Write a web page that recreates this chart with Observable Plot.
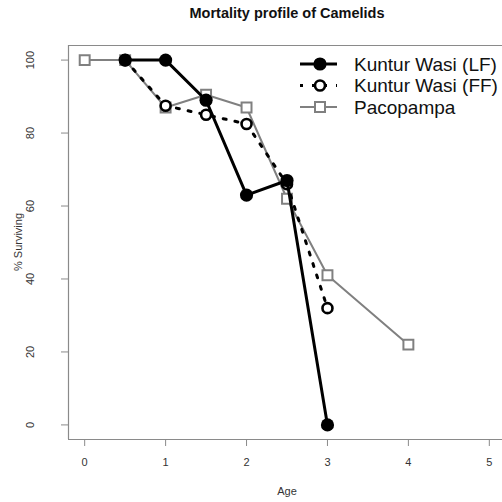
<!DOCTYPE html>
<html><head><meta charset="utf-8">
<script src="https://cdn.jsdelivr.net/npm/d3@7"></script>
<script src="https://cdn.jsdelivr.net/npm/@observablehq/plot@0.6"></script>
<style>body{margin:0;background:#fff} #chart{width:502px;height:502px}</style>
</head><body><div id="chart"></div>
<script>
const title = "Mortality profile of Camelids";
const xLabel = "Age";
const yLabel = "% Surviving";
const xTicks = [0, 1, 2, 3, 4, 5];
const yTicks = [0, 20, 40, 60, 80, 100];
const xDomain = [-0.2, 5.2];
const yDomain = [-4, 104];
const seriesNames = ["Kuntur Wasi (LF)", "Kuntur Wasi (FF)", "Pacopampa"];
const ageLF = [0.5, 1, 1.5, 2, 2.5, 3];
const survLF = [100, 100, 89, 63, 67, 0];
const ageFF = [0.5, 1, 1.5, 2, 2.5, 3];
const survFF = [100, 87.5, 85, 82.5, 66, 32];
const agePaco = [0, 0.5, 1, 1.5, 2, 2.5, 3, 4];
const survPaco = [100, 100, 87, 90.5, 87, 62, 41, 22];

const toRows = (ages, vals, name) => ages.map((a, i) => ({series: name, age: a, surv: vals[i]}));
const lf = toRows(ageLF, survLF, seriesNames[0]);
const ff = toRows(ageFF, survFF, seriesNames[1]);
const paco = toRows(agePaco, survPaco, seriesNames[2]);

const GRAY = "#808080";
const AX = "#8a8a8a";
const TXT = "#333";
const font = "'Liberation Sans', Arial, Helvetica, sans-serif";

const chart = Plot.plot({
  width: 502,
  height: 502,
  marginTop: 45,
  marginBottom: 63,
  marginLeft: 68,
  marginRight: 0,
  style: {fontFamily: font, background: "#fff"},
  x: {domain: xDomain, range: [68, 505]},
  y: {domain: yDomain},
  marks: [
    Plot.ruleY(yDomain, {x1: xDomain[0], x2: xDomain[1], stroke: AX, strokeWidth: 1.2}),
    Plot.ruleX([xDomain[0]], {y1: yDomain[0], y2: yDomain[1], stroke: AX, strokeWidth: 1.2}),
    Plot.axisX(xTicks, {tickSize: 7, tickPadding: 12, stroke: AX, color: TXT, fontSize: 11, label: null}),
    Plot.axisY(yTicks, {tickSize: 7, tickPadding: 28, tickRotate: -90, stroke: AX, color: TXT, fontSize: 11, label: null}),
    Plot.line(paco, {x: "age", y: "surv", stroke: GRAY, strokeWidth: 2}),
    Plot.dot(paco, {x: "age", y: "surv", symbol: "square", r: 5.6, stroke: GRAY, strokeWidth: 2, fill: "white"}),
    Plot.line(ff, {x: "age", y: "surv", stroke: "black", strokeWidth: 3, strokeDasharray: "3,9"}),
    Plot.dot(ff, {x: "age", y: "surv", r: 5, stroke: "black", strokeWidth: 2.6, fill: "white"}),
    Plot.line(lf, {x: "age", y: "surv", stroke: "black", strokeWidth: 3}),
    Plot.dot(lf, {x: "age", y: "surv", r: 6.6, fill: "black", stroke: "none"})
  ]
});
document.getElementById("chart").appendChild(chart);

const svg = d3.select(chart);
svg.append("text")
  .attr("x", 287).attr("y", 18)
  .attr("text-anchor", "middle")
  .attr("font-family", font).attr("font-weight", "bold").attr("font-size", 14.5)
  .attr("fill", "#111").text(title);

svg.append("text")
  .attr("x", 287).attr("y", 495)
  .attr("text-anchor", "middle")
  .attr("font-family", font).attr("font-size", 11)
  .attr("fill", TXT).text(xLabel);

svg.append("text")
  .attr("transform", "translate(22,242) rotate(-90)")
  .attr("text-anchor", "middle")
  .attr("font-family", font).attr("font-size", 11)
  .attr("fill", TXT).text(yLabel);

const leg = svg.append("g").attr("font-family", font);
const legendStyles = [
  {stroke: "black", width: 3, dash: null, sym: "circle", fill: "black", symStroke: "none", r: 6.6},
  {stroke: "black", width: 3, dash: "3,9", sym: "circle", fill: "none", symStroke: "black", r: 5},
  {stroke: GRAY, width: 2, dash: null, sym: "square", fill: "white", symStroke: GRAY, r: 5}
];
seriesNames.forEach((name, i) => {
  const st = legendStyles[i];
  const cy = 64 + i * 21.5;
  const g = leg.append("g");
  g.append("line").attr("x1", 300).attr("x2", 337).attr("y1", cy).attr("y2", cy)
    .attr("stroke", st.stroke).attr("stroke-width", st.width)
    .attr("stroke-dasharray", st.dash);
  if (st.sym === "circle") {
    g.append("circle").attr("cx", 320).attr("cy", cy).attr("r", st.r)
      .attr("fill", st.fill).attr("stroke", st.symStroke).attr("stroke-width", 2.6);
  } else {
    g.append("rect").attr("x", 320 - st.r).attr("y", cy - st.r).attr("width", 2 * st.r).attr("height", 2 * st.r)
      .attr("fill", st.fill).attr("stroke", st.symStroke).attr("stroke-width", 2);
  }
  g.append("text").attr("x", 354).attr("y", cy + 6.6)
    .attr("text-anchor", "start")
    .attr("font-size", 19).attr("fill", "#111").text(name);
});
</script>
</body></html>
